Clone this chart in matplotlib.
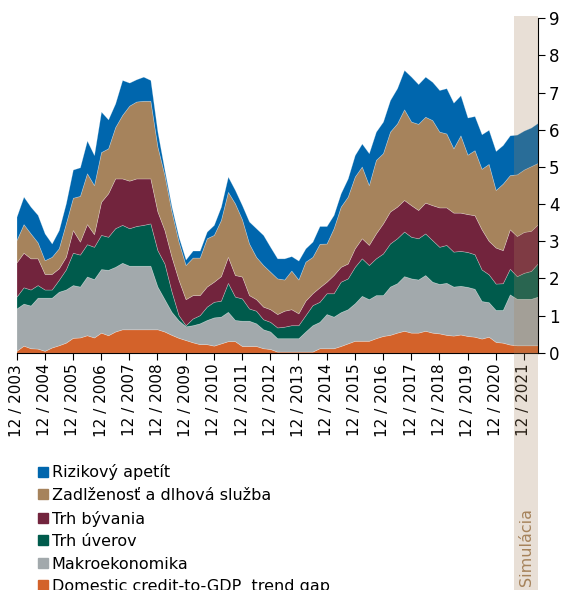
import numpy as np
import matplotlib
matplotlib.use("Agg")
import matplotlib.pyplot as plt
from matplotlib.patches import Rectangle
from matplotlib.transforms import blended_transform_factory

# quarterly, 12/2003 .. 6/2022
years = list(range(2003, 2022))
tick_labels = ["12 / %d" % y for y in years]

credit_gap = [0.05, 0.19, 0.12, 0.11, 0.05, 0.14, 0.20, 0.27, 0.40, 0.41, 0.47, 0.41, 0.54, 0.47, 0.57,
              0.63, 0.63, 0.63, 0.63, 0.63, 0.63, 0.57, 0.48, 0.40, 0.34, 0.28, 0.23, 0.23, 0.19, 0.25,
              0.31, 0.31, 0.18, 0.18, 0.18, 0.12, 0.10, 0.03, 0.03, 0.03, 0.03, 0.03, 0.03, 0.12, 0.12,
              0.12, 0.18, 0.25, 0.32, 0.32, 0.32, 0.39, 0.45, 0.48, 0.54, 0.59, 0.54, 0.54, 0.59, 0.54,
              0.52, 0.48, 0.46, 0.49, 0.45, 0.43, 0.38, 0.43, 0.29, 0.27, 0.22, 0.20, 0.20, 0.20, 0.20]
makro = [1.14, 1.13, 1.15, 1.37, 1.43, 1.34, 1.44, 1.43, 1.42, 1.37, 1.58, 1.57, 1.71, 1.76, 1.74,
         1.79, 1.71, 1.71, 1.71, 1.71, 1.15, 0.87, 0.62, 0.47, 0.37, 0.46, 0.56, 0.65, 0.76, 0.72,
         0.79, 0.57, 0.68, 0.68, 0.61, 0.51, 0.47, 0.36, 0.36, 0.36, 0.36, 0.54, 0.71, 0.71, 0.92,
         0.85, 0.91, 0.92, 1.01, 1.21, 1.12, 1.16, 1.10, 1.30, 1.33, 1.47, 1.46, 1.43, 1.50, 1.37,
         1.33, 1.40, 1.32, 1.31, 1.32, 1.29, 1.01, 0.93, 0.86, 0.88, 1.35, 1.25, 1.25, 1.25, 1.31]
uvery = [0.32, 0.44, 0.43, 0.34, 0.22, 0.22, 0.32, 0.54, 0.87, 0.86, 0.87, 0.87, 0.92, 0.89, 1.04,
         1.02, 1.01, 1.07, 1.10, 1.14, 0.98, 0.96, 0.55, 0.14, 0.03, 0.18, 0.22, 0.36, 0.42, 0.43,
         0.78, 0.63, 0.60, 0.33, 0.34, 0.27, 0.26, 0.29, 0.31, 0.35, 0.35, 0.44, 0.54, 0.54, 0.56,
         0.63, 0.82, 0.83, 0.98, 1.01, 0.92, 0.99, 1.12, 1.16, 1.21, 1.20, 1.12, 1.11, 1.12, 1.12,
         1.00, 1.02, 0.94, 0.94, 0.94, 0.93, 0.85, 0.75, 0.71, 0.72, 0.69, 0.61, 0.70, 0.75, 0.90]
byvanie = [0.92, 0.93, 0.84, 0.72, 0.42, 0.42, 0.31, 0.34, 0.61, 0.35, 0.54, 0.34, 0.89, 1.17, 1.34,
           1.25, 1.28, 1.28, 1.25, 1.21, 1.04, 0.90, 0.93, 0.95, 0.70, 0.63, 0.54, 0.54, 0.54, 0.66,
           0.70, 0.58, 0.59, 0.36, 0.31, 0.34, 0.34, 0.36, 0.43, 0.43, 0.32, 0.39, 0.32, 0.39, 0.31,
           0.49, 0.40, 0.40, 0.50, 0.54, 0.54, 0.67, 0.81, 0.86, 0.85, 0.85, 0.85, 0.76, 0.83, 0.94,
           1.06, 1.01, 1.05, 1.03, 1.02, 1.05, 1.08, 0.90, 0.97, 0.89, 1.06, 1.08, 1.10, 1.08, 1.05]
zadlzenost = [0.60, 0.77, 0.67, 0.43, 0.37, 0.46, 0.54, 0.90, 0.87, 1.23, 1.37, 1.32, 1.34, 1.21, 1.38,
              1.71, 2.02, 2.07, 2.09, 2.09, 1.75, 1.48, 1.22, 1.03, 0.92, 1.01, 1.01, 1.30, 1.26, 1.51,
              1.75, 1.93, 1.54, 1.39, 1.14, 1.12, 1.01, 0.96, 0.84, 1.04, 0.91, 1.05, 0.98, 1.17, 1.03,
              1.26, 1.62, 1.80, 1.93, 1.93, 1.61, 1.98, 1.89, 2.15, 2.24, 2.44, 2.25, 2.32, 2.31, 2.29,
              2.04, 1.99, 1.73, 2.08, 1.60, 1.75, 1.63, 2.07, 1.55, 1.79, 1.46, 1.66, 1.68, 1.74, 1.65]
apetit = [0.63, 0.74, 0.72, 0.74, 0.72, 0.36, 0.49, 0.54, 0.76, 0.77, 0.88, 0.81, 1.09, 0.78, 0.64,
          0.94, 0.62, 0.60, 0.65, 0.56, 0.40, 0.14, 0.13, 0.13, 0.15, 0.19, 0.19, 0.18, 0.27, 0.36,
          0.41, 0.36, 0.38, 0.59, 0.77, 0.81, 0.67, 0.54, 0.57, 0.39, 0.51, 0.36, 0.41, 0.48, 0.47,
          0.36, 0.36, 0.49, 0.58, 0.62, 0.86, 0.76, 0.85, 0.85, 0.95, 1.06, 1.21, 1.07, 1.08, 1.03,
          1.12, 1.22, 1.23, 1.08, 1.00, 0.92, 0.93, 0.92, 1.05, 1.04, 1.07, 1.07, 1.05, 1.04, 1.08]

names = ["Domestic credit-to-GDP  trend gap", "Makroekonomika", "Trh úverov",
         "Trh bývania", "Zadlženosť a dlhová služba", "Rizikový apetít"]
colors = ["#d3622a", "#a2a9ac", "#005b4c", "#72243d", "#a6835c", "#0066ad"]

x = np.arange(len(credit_gap))

fig = plt.figure(figsize=(5.65, 5.9), dpi=100)
ax = fig.add_axes([16.5 / 565, 1 - 352.7 / 590, (538 - 16.5) / 565, (352.7 - 18.3) / 590])

ax.stackplot(x, credit_gap, makro, uvery, byvanie, zadlzenost, apetit,
             colors=colors, edgecolor=(1, 1, 1, 0.3), linewidth=0.5)

ax.set_xlim(0, len(x) - 1)
ax.set_ylim(0, 9)
ax.set_xticks(np.arange(0, 73, 4))
ax.set_xticklabels(tick_labels, rotation=90, fontsize=11)
ax.yaxis.tick_right()
ax.set_yticks(range(10))
ax.tick_params(axis="y", labelsize=12, length=5, direction="out", pad=3)
ax.tick_params(axis="x", length=5, direction="out", pad=3)
ax.spines["left"].set_visible(False)
ax.spines["top"].set_visible(False)

# simulation band
tr = blended_transform_factory(ax.transData, fig.transFigure)
band = Rectangle((70.65, 0), len(x) - 1 - 70.65, 1 - 16 / 590, transform=tr,
                 facecolor="#a6835c", alpha=0.25, edgecolor="none", zorder=10, clip_on=False)
fig.add_artist(band)
fig.text(72.3, 4 / 590, "Simulácia", transform=tr,
         rotation=90, ha="center", va="bottom", fontsize=11.5, color="#a6835c")

handles = [Rectangle((0, 0), 1, 1, color=c) for c in colors][::-1]
fig.legend(handles, names[::-1], loc="upper left", bbox_to_anchor=(38 / 565, 1 - 464.5 / 590),
           frameon=False, fontsize=11.5, handlelength=0.6, handleheight=0.6,
           handletextpad=0.25, labelspacing=0.47, borderpad=0, borderaxespad=0)

fig.savefig("out.png", dpi=100)
